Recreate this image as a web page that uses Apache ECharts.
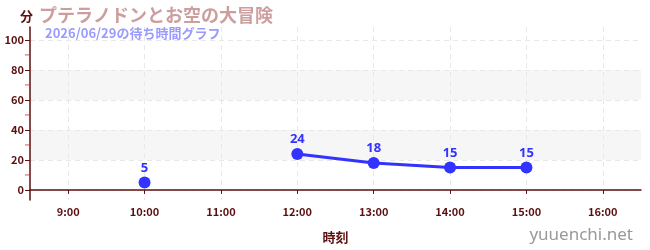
<!DOCTYPE html>
<html><head><meta charset="utf-8">
<script src="https://cdn.jsdelivr.net/npm/echarts@6/dist/echarts.min.js"></script>
<style>html,body{margin:0;padding:0;background:#fff}#c{width:650px;height:250px}</style>
</head><body><div id="c"></div>
<script>
const times = ['10:00','11:00','12:00','13:00','14:00','15:00'];
const waits = [5, null, 24, 18, 15, 15];
const xTicks = ['9:00','10:00','11:00','12:00','13:00','14:00','15:00','16:00'];
const yTicks = [0, 20, 40, 60, 80, 100];
const yMinor = [10, 30, 50, 70, 90];
const titleText = 'プテラノドンとお空の大冒険';
const subText = '2026/06/29の待ち時間グラフ';

const toH = s => { const p = s.split(':'); return +p[0] + (+p[1]) / 60; };
const xVals = xTicks.map(toH);
const data = times.map((t, i) => [toH(t), waits[i]]);
const X_MIN = 8.5, X_MAX = 16.5, Y_MIN = -6.7, Y_MAX = 108.6;
const maroon = '#5c0f0f';
const font = '"Noto Sans CJK JP","Noto Sans",sans-serif';

const chart = echarts.init(document.getElementById('c'));
chart.setOption({
  animation: false,
  grid: { left: 30, right: 9, top: 27, bottom: 50 },
  title: [
    { text: '分', left: 15, top: 5, textStyle: { fontSize: 13, fontWeight: 'bold', color: maroon, fontFamily: font } },
    { text: titleText, left: 34, top: 1, textStyle: { fontSize: 18, fontWeight: 'bold', color: '#cc9e9e', fontFamily: font } },
    { text: subText, left: 40, top: 22, textStyle: { fontSize: 13, fontWeight: 'bold', color: '#9a9aff', fontFamily: font } },
    { text: 'yuuenchi.net', right: 12, top: 222, textStyle: { fontSize: 17, fontWeight: 'normal', color: '#999', fontFamily: '"Noto Sans",sans-serif' } }
  ],
  xAxis: {
    type: 'value', min: X_MIN, max: X_MAX,
    name: '時刻', nameLocation: 'middle', nameGap: 31,
    nameTextStyle: { fontSize: 13, fontWeight: 'bold', color: maroon, fontFamily: font },
    axisLine: { lineStyle: { color: maroon, width: 1.5 } },
    axisTick: { show: true, length: 4, customValues: xVals, lineStyle: { color: maroon } },
    axisLabel: { customValues: xVals, formatter: v => Math.round(v) + ':00', fontSize: 11, fontWeight: 'bold', color: maroon, margin: 6, fontFamily: font },
    splitLine: { show: true, lineStyle: { color: '#e8e8e8', type: [5, 4] } }
  },
  yAxis: {
    type: 'value', min: Y_MIN, max: Y_MAX,
    axisLine: { show: true, lineStyle: { color: maroon, width: 1.5 } },
    axisTick: { show: true, length: 5, customValues: yTicks, lineStyle: { color: maroon } },
    axisLabel: { customValues: yTicks, fontSize: 11, fontWeight: 'bold', color: maroon, margin: 6, fontFamily: font },
    splitLine: { show: true, lineStyle: { color: '#e8e8e8', type: [5, 4] } },
    splitArea: { show: true, areaStyle: { color: ['rgba(255,255,255,0)', '#f6f6f6'] } }
  },
  series: [{
    type: 'line', data: data, connectNulls: false, z: 3,
    symbol: 'circle', symbolSize: 12,
    lineStyle: { width: 3, color: '#3333ff' },
    itemStyle: { color: '#3333ff' },
    label: { show: true, position: 'top', distance: 2, fontSize: 13, fontWeight: 'bold', color: '#3333ff', fontFamily: '"Noto Sans",sans-serif', formatter: p => p.value[1] }
  }, {
    // minor ticks of the y axis
    type: 'scatter', data: yMinor.map(v => [X_MIN, v]), clip: false, silent: true, z: 1,
    symbol: 'rect', symbolSize: [4, 1], symbolOffset: [-3, 0],
    itemStyle: { color: '#e02020' }, label: { show: false }
  }]
});
</script></body></html>
